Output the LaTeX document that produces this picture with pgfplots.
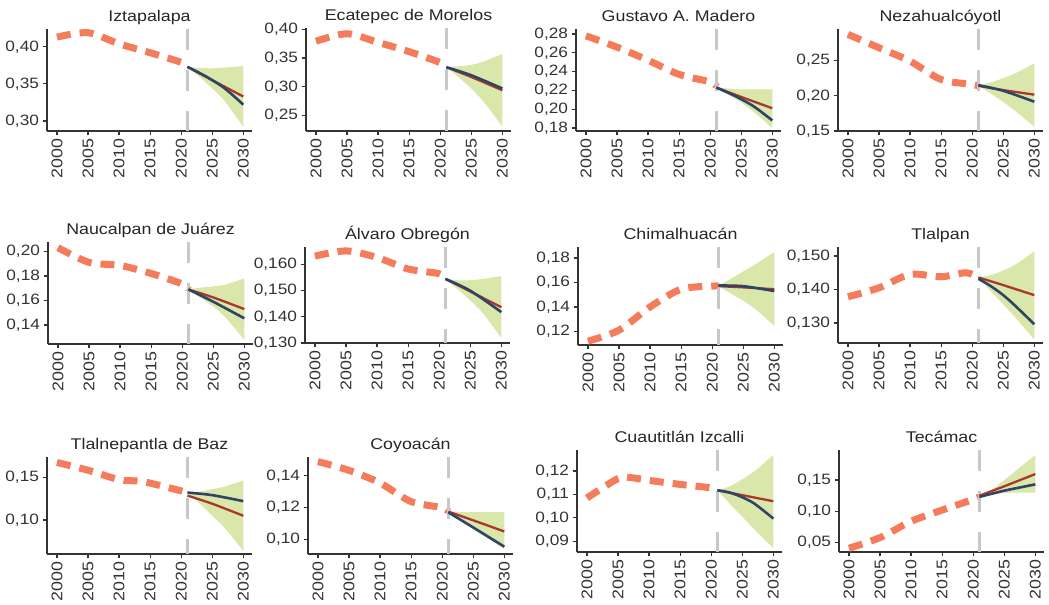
\documentclass[border=0pt]{standalone}
\usepackage{fontspec}
\setmainfont{Liberation Sans}[FakeStretch=1.15]
\usepackage{pgfplots}
\pgfplotsset{compat=1.18}
\usepgfplotslibrary{fillbetween}

\definecolor{histc}{HTML}{F47C5B}
\definecolor{redc}{HTML}{A8372D}
\definecolor{bluec}{HTML}{2E4566}
\definecolor{bandc}{HTML}{DAE7AB}
\definecolor{vgray}{HTML}{C8C8C8}
\definecolor{axc}{HTML}{333333}

\pgfplotsset{
  panel/.style={
    scale only axis, width=205bp, anchor=south west,
    xmin=1998.4, xmax=2031.4, clip=false,
    axis x line=bottom, axis y line=left,
    axis line style={-, draw=axc, line width=1.2bp},
    xtick={2000,2005,...,2030},
    tick align=outside, major tick length=4.5bp,
    tick style={draw=axc, line width=1.2bp},
    scaled y ticks=false,
    xticklabel style={rotate=90, anchor=east, font=\fontsize{15.5bp}{17bp}\selectfont, text=axc,
      /pgf/number format/assume math mode=true, /pgf/number format/1000 sep={}},
    yticklabel style={font=\fontsize{15bp}{17bp}\selectfont, text=axc,
      /pgf/number format/assume math mode=true,
      /pgf/number format/fixed, /pgf/number format/fixed zerofill,
      /pgf/number format/precision=2, /pgf/number format/use comma},
    title style={at={(0.5,1)}, anchor=base, yshift=1.5bp,
      font=\fontsize{15.5bp}{18bp}\selectfont, text=black!85},
  },
  prec3/.style={yticklabel style={/pgf/number format/precision=3}},
  hist/.style={draw=histc, line width=7bp, dash pattern=on 14bp off 9bp, smooth, line cap=butt},
  vline/.style={draw=vgray, line width=3.5bp, dash pattern=on 21bp off 20bp},
  redl/.style={draw=redc, line width=2.3bp, smooth},
  bluel/.style={draw=bluec, line width=2.6bp, smooth},
}

% #1 ymin, #2 ymax, #3 hist, #4 red, #5 blue, #6 upper, #7 lower
\newcommand{\panelplots}[7]{%
  \addplot[name path=up, draw=none, smooth] coordinates {#6};
  \addplot[name path=lo, draw=none, smooth] coordinates {#7};
  \addplot[fill=bandc, draw=none] fill between[of=up and lo];
  \addplot[hist] coordinates {#3};
  \addplot[vline] coordinates {(2021,#2) (2021,#1)};
  \addplot[redl] coordinates {#4};
  \addplot[bluel] coordinates {#5};
}

\begin{document}
\begin{tikzpicture}

% Row 1
\begin{axis}[panel, at={(47bp,474bp)}, height=102bp, ymin=0.2865, ymax=0.424,
  ytick={0.30,0.35,0.40}, title={Iztapalapa}]
\panelplots{0.2865}{0.424}
 {(2000,0.413) (2005,0.419) (2010,0.404) (2015,0.392) (2020,0.379) (2021,0.373)}
 {(2021,0.373) (2025,0.355) (2030,0.333)}
 {(2021,0.373) (2024,0.360) (2027,0.344) (2030,0.322)}
 {(2021,0.373) (2023,0.3715) (2025,0.371) (2027,0.372) (2030,0.374)}
 {(2021,0.373) (2023,0.359) (2025,0.344) (2027,0.327) (2030,0.292)}
\end{axis}

\begin{axis}[panel, at={(306bp,474bp)}, height=103bp, ymin=0.2233, ymax=0.402,
  ytick={0.25,0.30,0.35,0.40}, title={Ecatepec de Morelos}]
\panelplots{0.2233}{0.402}
 {(2000,0.379) (2005,0.392) (2010,0.377) (2015,0.361) (2020,0.342) (2021,0.334)}
 {(2021,0.334) (2025,0.317) (2030,0.294)}
 {(2021,0.334) (2025,0.320) (2030,0.297)}
 {(2021,0.334) (2023,0.3355) (2025,0.338) (2027,0.344) (2030,0.357)}
 {(2021,0.334) (2023,0.316) (2025,0.297) (2027,0.274) (2030,0.231)}
\end{axis}

\begin{axis}[panel, at={(576bp,474bp)}, height=102bp, ymin=0.1768, ymax=0.2853,
  ytick={0.18,0.20,0.22,0.24,0.26,0.28}, title={Gustavo A. Madero}]
\panelplots{0.1768}{0.2853}
 {(2000,0.278) (2005,0.266) (2010,0.252) (2015,0.237) (2020,0.229) (2021,0.224)}
 {(2021,0.223) (2025,0.213) (2030,0.201)}
 {(2021,0.223) (2024,0.214) (2027,0.203) (2030,0.188)}
 {(2021,0.223) (2023,0.222) (2025,0.221) (2027,0.221) (2030,0.221)}
 {(2021,0.223) (2023,0.215) (2025,0.207) (2027,0.197) (2030,0.180)}
\end{axis}

\begin{axis}[panel, at={(838bp,474bp)}, height=102bp, ymin=0.15, ymax=0.2946,
  ytick={0.15,0.20,0.25}, title={Nezahualcóyotl}]
\panelplots{0.15}{0.2946}
 {(2000,0.287) (2005,0.268) (2010,0.249) (2015,0.223) (2020,0.216) (2021,0.214)}
 {(2021,0.214) (2025,0.208) (2030,0.2015)}
 {(2021,0.215) (2025,0.207) (2030,0.1915)}
 {(2021,0.214) (2023,0.219) (2025,0.225) (2027,0.232) (2030,0.246)}
 {(2021,0.214) (2023,0.203) (2025,0.191) (2027,0.178) (2030,0.156)}
\end{axis}

% Row 2
\begin{axis}[panel, at={(48bp,261bp)}, height=102bp, ymin=0.1246, ymax=0.2076,
  ytick={0.14,0.16,0.18,0.20}, title={Naucalpan de Juárez}]
\panelplots{0.1246}{0.2076}
 {(2000,0.203) (2005,0.191) (2010,0.1885) (2015,0.182) (2020,0.1735) (2021,0.169)}
 {(2021,0.169) (2025,0.1625) (2030,0.153)}
 {(2021,0.169) (2025,0.159) (2030,0.1455)}
 {(2021,0.169) (2023,0.1705) (2025,0.1715) (2027,0.173) (2030,0.178)}
 {(2021,0.169) (2023,0.162) (2025,0.155) (2027,0.146) (2030,0.128)}
\end{axis}

\begin{axis}[panel, prec3, at={(305bp,262bp)}, height=96bp, ymin=0.130, ymax=0.1667,
  ytick={0.130,0.140,0.150,0.160}, title={Álvaro Obregón}]
\panelplots{0.130}{0.1667}
 {(2000,0.1632) (2005,0.1652) (2010,0.1627) (2015,0.1583) (2020,0.1565) (2021,0.1545)}
 {(2021,0.1545) (2025,0.1497) (2030,0.1437)}
 {(2021,0.1545) (2025,0.1500) (2030,0.1418)}
 {(2021,0.1545) (2023,0.1540) (2025,0.1540) (2027,0.1545) (2030,0.1556)}
 {(2021,0.1545) (2023,0.1505) (2025,0.1463) (2027,0.1415) (2030,0.1320)}
\end{axis}

\begin{axis}[panel, at={(578bp,260bp)}, height=98bp, ymin=0.1089, ymax=0.189,
  ytick={0.12,0.14,0.16,0.18}, title={Chimalhuacán}]
\panelplots{0.1089}{0.189}
 {(2000,0.112) (2005,0.121) (2010,0.140) (2015,0.1545) (2020,0.157) (2021,0.157)}
 {(2021,0.157) (2025,0.156) (2030,0.1545)}
 {(2021,0.1575) (2025,0.157) (2030,0.153)}
 {(2021,0.157) (2023,0.163) (2025,0.169) (2027,0.175) (2030,0.185)}
 {(2021,0.157) (2023,0.151) (2025,0.145) (2027,0.138) (2030,0.1245)}
\end{axis}

\begin{axis}[panel, prec3, at={(838bp,262bp)}, height=96bp, ymin=0.1240, ymax=0.1527,
  ytick={0.130,0.140,0.150}, title={Tlalpan}]
\panelplots{0.1240}{0.1527}
 {(2000,0.1378) (2005,0.1405) (2010,0.1445) (2015,0.1438) (2019,0.1450) (2021,0.1436)}
 {(2021,0.1436) (2025,0.1413) (2030,0.1383)}
 {(2021,0.1432) (2023,0.1410) (2025,0.1383) (2027,0.1350) (2030,0.1296)}
 {(2021,0.1436) (2023,0.1443) (2025,0.1457) (2027,0.1475) (2030,0.1514)}
 {(2021,0.1436) (2023,0.1395) (2025,0.1355) (2027,0.1315) (2030,0.1250)}
\end{axis}

% Row 3
\begin{axis}[panel, at={(47bp,51bp)}, height=97bp, ymin=0.0605, ymax=0.1734,
  ytick={0.10,0.15}, title={Tlalnepantla de Baz}]
\panelplots{0.0605}{0.1734}
 {(2000,0.167) (2005,0.158) (2010,0.147) (2013,0.1455) (2015,0.143) (2020,0.134) (2021,0.132)}
 {(2021,0.1285) (2025,0.119) (2030,0.105)}
 {(2021,0.132) (2025,0.129) (2030,0.122)}
 {(2021,0.132) (2023,0.133) (2025,0.136) (2027,0.139) (2030,0.146)}
 {(2021,0.132) (2023,0.119) (2025,0.105) (2027,0.091) (2030,0.064)}
\end{axis}

\begin{axis}[panel, at={(308bp,51bp)}, height=97bp, ymin=0.0908, ymax=0.1519,
  ytick={0.10,0.12,0.14}, title={Coyoacán}]
\panelplots{0.0908}{0.1519}
 {(2000,0.149) (2005,0.1435) (2010,0.1355) (2015,0.1238) (2020,0.120) (2021,0.1175)}
 {(2021,0.1175) (2025,0.112) (2030,0.105)}
 {(2021,0.1170) (2025,0.1075) (2030,0.0954)}
 {(2021,0.1175) (2023,0.1172) (2025,0.1172) (2027,0.1172) (2030,0.1172)}
 {(2021,0.1175) (2023,0.1125) (2025,0.1065) (2027,0.1015) (2030,0.0942)}
\end{axis}

\begin{axis}[panel, at={(577bp,53bp)}, height=102bp, ymin=0.0854, ymax=0.129,
  ytick={0.09,0.10,0.11,0.12}, title={Cuautitlán Izcalli}]
\panelplots{0.0854}{0.129}
 {(2000,0.1085) (2005,0.1168) (2007,0.1172) (2010,0.1160) (2015,0.1143) (2020,0.1128) (2021,0.1118)}
 {(2021,0.1118) (2025,0.1097) (2030,0.1071)}
 {(2021,0.1118) (2023,0.1108) (2025,0.1088) (2027,0.1060) (2030,0.0997)}
 {(2021,0.1118) (2023,0.1135) (2025,0.1165) (2027,0.1200) (2030,0.1269)}
 {(2021,0.1118) (2023,0.1060) (2025,0.1005) (2027,0.0950) (2030,0.0871)}
\end{axis}

\begin{axis}[panel, at={(839bp,53bp)}, height=102bp, ymin=0.035, ymax=0.198,
  ytick={0.05,0.10,0.15}, title={Tecámac}]
\panelplots{0.035}{0.198}
 {(2000,0.041) (2005,0.058) (2010,0.084) (2015,0.102) (2020,0.119) (2021,0.123)}
 {(2021,0.125) (2025,0.140) (2030,0.1596)}
 {(2021,0.123) (2025,0.133) (2030,0.143)}
 {(2021,0.123) (2023,0.135) (2025,0.150) (2027,0.166) (2030,0.190)}
 {(2021,0.123) (2023,0.127) (2025,0.129) (2027,0.130) (2030,0.130)}
\end{axis}

\pgfresetboundingbox
\path[use as bounding box] (0,0) rectangle (1049bp,605bp);
\end{tikzpicture}
\end{document}
